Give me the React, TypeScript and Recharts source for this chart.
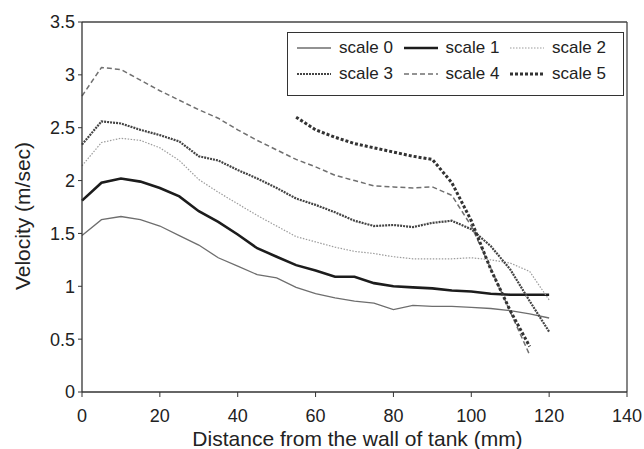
import React from "react";
import {
  LineChart,
  Line,
  XAxis,
  YAxis,
  Legend,
  ReferenceLine,
} from "recharts";

// distance from the wall (mm), one reading every 5 mm
const distance = [0, 5, 10, 15, 20, 25, 30, 35, 40, 45, 50, 55, 60, 65, 70, 75, 80, 85, 90, 95, 100, 105, 110, 115, 120];

const scale0 = [1.48, 1.63, 1.66, 1.63, 1.57, 1.48, 1.39, 1.27, 1.19, 1.11, 1.08, 0.99, 0.93, 0.89, 0.86, 0.84, 0.78, 0.82, 0.81, 0.81, 0.8, 0.79, 0.77, 0.74, 0.7];
const scale1 = [1.81, 1.98, 2.02, 1.99, 1.93, 1.85, 1.71, 1.61, 1.49, 1.36, 1.28, 1.2, 1.15, 1.09, 1.09, 1.03, 1.0, 0.99, 0.98, 0.96, 0.95, 0.93, 0.92, 0.92, 0.92];
const scale2 = [2.14, 2.36, 2.4, 2.38, 2.31, 2.19, 2.01, 1.89, 1.78, 1.67, 1.57, 1.47, 1.42, 1.37, 1.33, 1.31, 1.28, 1.26, 1.26, 1.26, 1.27, 1.25, 1.22, 1.14, 0.87];
const scale3 = [2.34, 2.56, 2.54, 2.48, 2.43, 2.37, 2.23, 2.19, 2.1, 2.02, 1.93, 1.83, 1.77, 1.7, 1.62, 1.57, 1.58, 1.56, 1.6, 1.62, 1.54, 1.38, 1.16, 0.86, 0.57];
const scale4 = [2.8, 3.07, 3.05, 2.95, 2.85, 2.76, 2.67, 2.59, 2.48, 2.38, 2.29, 2.2, 2.13, 2.05, 2.0, 1.95, 1.94, 1.93, 1.94, 1.86, 1.57, 1.17, 0.76, 0.35, null];
const scale5 = [null, null, null, null, null, null, null, null, null, null, null, 2.6, 2.48, 2.41, 2.35, 2.31, 2.27, 2.23, 2.2, 1.98, 1.62, 1.16, 0.77, 0.43, null];

const xTicks = [0, 20, 40, 60, 80, 100, 120, 140];
const yTicks = [0, 0.5, 1, 1.5, 2, 2.5, 3, 3.5];

const data = distance.map((x, i) => ({
  x,
  s0: scale0[i],
  s1: scale1[i],
  s2: scale2[i],
  s3: scale3[i],
  s4: scale4[i] ?? undefined,
  s5: scale5[i] ?? undefined,
}));

const series = [
  { key: "s0", name: "scale 0", color: "#6e6e6e", width: 1.3, dash: undefined },
  { key: "s1", name: "scale 1", color: "#1c1c1c", width: 2.6, dash: undefined },
  { key: "s2", name: "scale 2", color: "#9c9c9c", width: 1.2, dash: "1.5 1.5" },
  { key: "s3", name: "scale 3", color: "#444444", width: 2.2, dash: "2 1" },
  { key: "s4", name: "scale 4", color: "#707070", width: 1.5, dash: "5 3" },
  { key: "s5", name: "scale 5", color: "#333333", width: 3, dash: "3 2" },
];

const font = "'Liberation Sans', Arial, Helvetica, sans-serif";
const ink = "#222";

function LegendBox() {
  return (
    <div
      style={{
        position: "relative",
        width: 337,
        height: 64,
        border: "1.5px solid #333",
        boxSizing: "border-box",
        background: "#fff",
      }}
    >
      {series.map((s, i) => {
        const col = i % 3;
        const row = Math.floor(i / 3);
        return (
          <div
            key={s.key}
            style={{
              position: "absolute",
              left: 9 + col * 106.5,
              top: 3 + row * 25.5,
              height: 24,
              display: "flex",
              alignItems: "center",
              fontSize: 17,
              color: ink,
              fontFamily: font,
              whiteSpace: "nowrap",
            }}
          >
            <svg width={34} height={6} style={{ marginRight: 8 }}>
              <line
                x1={0}
                y1={3}
                x2={34}
                y2={3}
                stroke={s.color}
                strokeWidth={s.width}
                strokeDasharray={s.dash}
              />
            </svg>
            {s.name}
          </div>
        );
      })}
    </div>
  );
}

const YTitle = () => (
  <text
    x={22}
    y={216}
    transform="rotate(-90 22 216)"
    textAnchor="middle"
    dominantBaseline="central"
    fontSize={21}
    fill={ink}
    fontFamily={font}
  >
    Velocity (m/sec)
  </text>
);

export default function App() {
  return (
    <div style={{ position: "absolute", left: 0, top: 0, background: "#fff", fontFamily: font }}>
      <LineChart
        width={644}
        height={449}
        data={data}
        margin={{ top: 22, right: 17, bottom: 0, left: 0 }}
      >
        <XAxis
          dataKey="x"
          type="number"
          domain={[0, 140]}
          ticks={xTicks}
          height={57}
          tickSize={5}
          tickMargin={12}
          tick={{ fill: ink, fontSize: 18, fontFamily: font }}
          axisLine={{ stroke: "#333", strokeWidth: 1.3 }}
          tickLine={{ stroke: "#333" }}
          label={{
            value: "Distance from the wall of tank (mm)",
            position: "insideBottom",
            offset: 3,
            dx: 3,
            fontSize: 21,
            fill: ink,
            fontFamily: font,
          }}
        />
        <YAxis
          type="number"
          domain={[0, 3.5]}
          ticks={yTicks}
          width={82}
          tickSize={4}
          tickMargin={3}
          tick={{ fill: ink, fontSize: 18, fontFamily: font }}
          axisLine={{ stroke: "#333", strokeWidth: 1.3 }}
          tickLine={{ stroke: "#333" }}
          label={<YTitle />}
        />
        <ReferenceLine y={3.5} stroke="#444" strokeWidth={1.3} />
        <ReferenceLine x={140} stroke="#444" strokeWidth={1.3} />
        {series.map((s) => (
          <Line
            key={s.key}
            type="linear"
            dataKey={s.key}
            name={s.name}
            stroke={s.color}
            strokeWidth={s.width}
            strokeDasharray={s.dash}
            dot={false}
            activeDot={false}
            isAnimationActive={false}
          />
        ))}
        <Legend
          layout="horizontal"
          verticalAlign="middle"
          align="center"
          content={() => <LegendBox />}
          wrapperStyle={{ position: "absolute", left: 287, top: 32, width: 337, bottom: "auto", right: "auto" }}
        />
      </LineChart>
    </div>
  );
}
